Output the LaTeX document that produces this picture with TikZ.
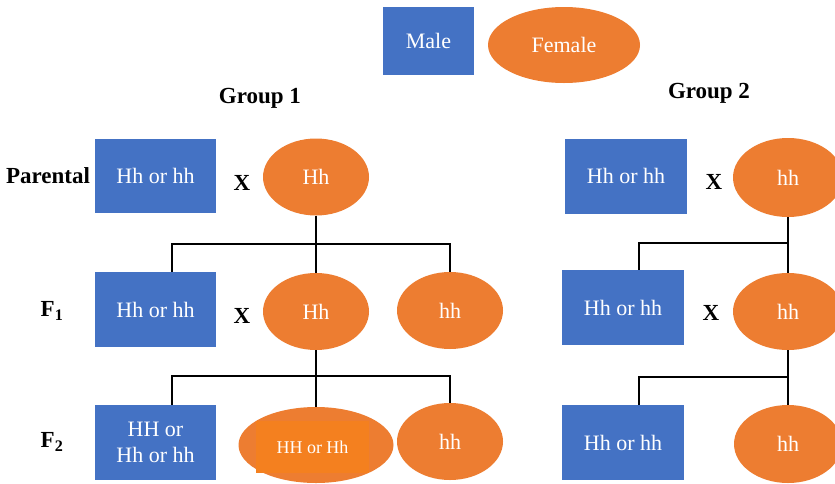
\documentclass[tikz,border=0pt]{standalone}
\usepackage{fontspec}
\setmainfont{Liberation Serif}
\usetikzlibrary{shapes.geometric}
\definecolor{mblue}{HTML}{4472C4}
\definecolor{forange}{HTML}{ED7D31}
\definecolor{inorange}{HTML}{F4801F}
\begin{document}
\begin{tikzpicture}[x=1pt,y=-1pt,
  malebox/.style={fill=mblue,text=white,inner sep=0pt,font=\fontsize{22}{27}\selectfont,align=center},
  femell/.style={ellipse,fill=forange,text=white,inner sep=0pt,font=\fontsize{22}{26}\selectfont},
  lbl/.style={font=\fontsize{23}{27}\selectfont\bfseries,inner sep=0pt},
  conn/.style={draw=black,line width=1.1pt}]
\path[use as bounding box,clip] (0,0) rectangle (835,483);
\fill[white] (0,0) rectangle (835,483);
% legend
\node[malebox,minimum width=91pt,minimum height=68pt] (male) at (428.5,41) {Male};
\node[femell,minimum width=152pt,minimum height=76pt] (female) at (564,45) {Female};
% group labels
\node[lbl] (g1) at (260,98) {Group 1};
\node[lbl] (g2) at (709,93) {Group 2};
% row labels
\node[lbl] (lpar) at (48,176) {Parental};
\node[lbl] (lf1) at (52,311) {F\textsubscript{1}};
\node[lbl] (lf2) at (52,442) {F\textsubscript{2}};
% group 1 parental
\node[malebox,minimum width=121pt,minimum height=74pt] (p1m) at (155.5,176) {Hh or hh};
\node[lbl] (x1) at (242,183) {X};
\node[femell,minimum width=106pt,minimum height=77pt] (p1f) at (316,177) {Hh};
% group 1 F1
\node[malebox,minimum width=121pt,minimum height=75pt] (a1m) at (155.5,309.5) {Hh or hh};
\node[lbl] (x2) at (242,316) {X};
\node[femell,minimum width=106pt,minimum height=77pt] (a1f) at (316,311.5) {Hh};
\node[femell,minimum width=106pt,minimum height=77pt] (a1h) at (450,310.5) {hh};
% group 1 F2
\node[malebox,minimum width=121pt,minimum height=75pt] (b1m) at (155.5,442.5) {HH or\\[-1pt]Hh or hh};
\node[femell,minimum width=155pt,minimum height=76pt] (b1f) at (316,445) {};
\node[fill=inorange,text=white,inner sep=0pt,minimum width=113pt,minimum height=52pt,font=\fontsize{18}{21}\selectfont] (b1fi) at (312.5,447) {HH or Hh};
\node[femell,minimum width=106pt,minimum height=77pt] (b1h) at (450,441.5) {hh};
% group 2 parental
\node[malebox,minimum width=122pt,minimum height=75pt] (p2m) at (626,176) {Hh or hh};
\node[lbl] (x3) at (714,182) {X};
\node[femell,minimum width=110pt,minimum height=79pt] (p2f) at (788,177.5) {hh};
% group 2 F1
\node[malebox,minimum width=122pt,minimum height=75pt] (a2m) at (623,307.5) {Hh or hh};
\node[lbl] (x4) at (711,313) {X};
\node[femell,minimum width=110pt,minimum height=77pt] (a2f) at (788,311.5) {hh};
% group 2 F2
\node[malebox,minimum width=122pt,minimum height=75pt] (b2m) at (623,442.5) {Hh or hh};
\node[femell,minimum width=108pt,minimum height=78pt] (b2f) at (788,444) {hh};
% connectors group 1
\coordinate (j1) at (316,244);
\coordinate (j2) at (316,376);
\draw[conn] (p1f.south) -- (j1);
\draw[conn] ([xshift=16.5pt]a1m.north) |- (j1) -| (a1h.north);
\draw[conn] (j1) -- (a1f.north);
\draw[conn] (a1f.south) -- (j2);
\draw[conn] ([xshift=16.5pt]b1m.north) |- (j2) -| (b1h.north);
\draw[conn] (j2) -- (b1f.north);
% connectors group 2
\coordinate (k1) at (788,243);
\coordinate (k2) at (788,377);
\draw[conn] (p2f.south) -- (k1);
\draw[conn] ([xshift=16pt]a2m.north) |- (k1);
\draw[conn] (k1) -- (a2f.north);
\draw[conn] (a2f.south) -- (k2);
\draw[conn] ([xshift=16pt]b2m.north) |- (k2);
\draw[conn] (k2) -- (b2f.north);
\end{tikzpicture}
\end{document}
